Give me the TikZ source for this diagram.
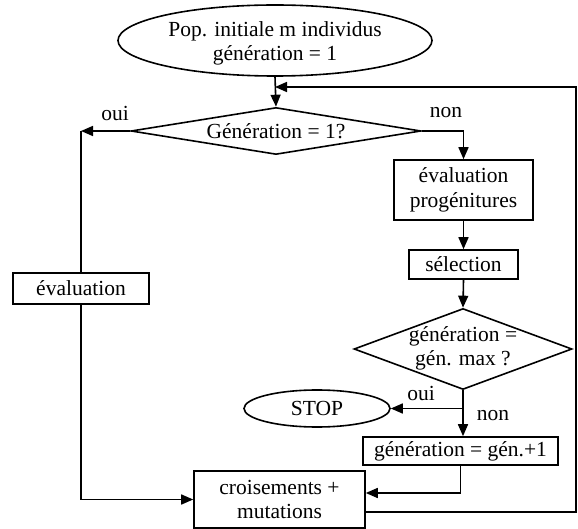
\documentclass[tikz,border=0pt]{standalone}
\usepackage{fontspec}
\setmainfont{Liberation Serif}
\usetikzlibrary{shapes.geometric,arrows.meta,calc}
\begin{document}
\begin{tikzpicture}[x=1pt,y=-1pt,
  every node/.style={font=\fontsize{21.5}{24.5}\selectfont, inner sep=0pt, align=center},
  conn/.style={line width=1.6pt},
  arr/.style={conn,-{Triangle[length=12pt,width=10pt]}},
  boxn/.style={draw, line width=1.6pt, rectangle},
  ellip/.style={draw, line width=1.6pt, ellipse},
  dia/.style={draw, line width=1.6pt, diamond},
  lbl/.style={}
]
\useasboundingbox (0,0) rectangle (578,529);

\node[ellip, minimum width=314pt, minimum height=71pt] (ell) at (275,40.5) {};
\node at (275,43.5) {Pop. initiale m individus\\génération = 1};

\node[dia, minimum width=290pt, minimum height=47pt] (d1) at (276,131) {};
\node at (d1) {Génération = 1?};

\node[boxn, minimum width=139pt, minimum height=60pt] (evp) at (463.5,190) {évaluation\\progénitures};
\node[boxn, minimum width=109pt, minimum height=29pt] (sel) at (463.5,264.5) {sélection};

\node[dia, minimum width=218pt, minimum height=81pt] (d2) at (463,349) {};
\node at (463,348.5) {génération =\\gén. max ?};

\node[ellip, minimum width=146pt, minimum height=37pt] (stop) at (317,408.5) {STOP};
\node[boxn, minimum width=195pt, minimum height=28pt] (gen) at (460.5,451) {génération = gén.+1};
\node[boxn, minimum width=171pt, minimum height=57pt] (cm) at (279.5,499.5) {croisements +\\mutations};
\node[boxn, minimum width=136pt, minimum height=31pt] (ev) at (81,288.5) {évaluation};

\node[lbl] (l1) at (115,113) {oui};
\node[lbl] (l2) at (446,113) {non};
\node[lbl] (l3) at (421,393) {oui};
\node[lbl] (l4) at (493,416) {non};

\coordinate (rc) at (576,87);

% connectors
\draw[arr] (ell.south) -- (d1.north);
\draw[arr] (d1.west) -- (ev.north |- d1.west);
\draw[conn] (ev.north |- d1.west) -- (ev.north);
\draw[arr] (ev.south) -- (ev.south |- cm.west) -- (cm.west);
\draw[arr] (d1.east) -- (evp.north |- d1.east) -- (evp.north);
\draw[arr] (evp.south) -- (sel.north);
\draw[arr] (sel.south) -- (d2.north);
\draw[arr] (d2.south) -- (d2.south |- gen.north);
\draw[arr] (d2.south |- stop.east) -- (stop.east);
\draw[arr] (gen.south) -- ($(gen.south |- cm.east)+(0,-6.5)$) -- ($(cm.east)+(0,-6.5)$);
\draw[arr] ($(cm.east)+(0,12.5)$) -- (rc |- {$(cm.east)+(0,12.5)$}) -- (rc) -- (ell.south |- rc);
\end{tikzpicture}
\end{document}
